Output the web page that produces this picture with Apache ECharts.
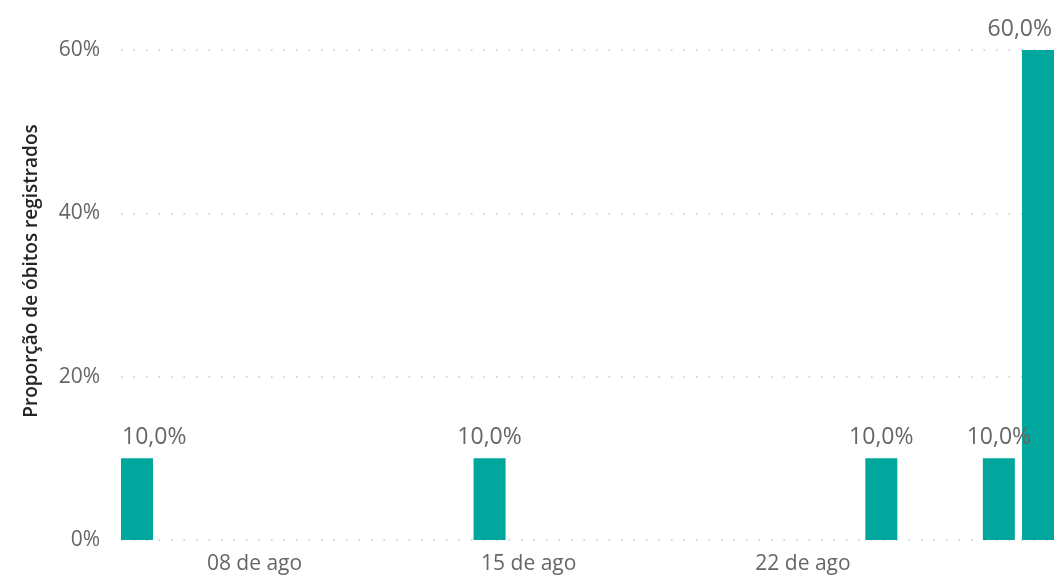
<!DOCTYPE html>
<html>
<head>
<meta charset="utf-8">
<script src="https://cdn.jsdelivr.net/npm/echarts@6/dist/echarts.min.js"></script>
<style>
  html, body { margin: 0; padding: 0; background: #fff; }
  #chart { width: 1057px; height: 576px; }
</style>
</head>
<body>
<div id="chart"></div>
<script>
    // dias de agosto com registros e a proporção (%) de óbitos
    var dias = [5, 14, 24, 27, 28];
    var proporcoes = [10, 10, 10, 10, 60];
    var diasRotulo = [8, 15, 22];
    var mes = 'ago';
    var yTicks = [0, 20, 40, 60];

    var myChart = echarts.init(document.getElementById('chart'));
    var font = '"Open Sans", "Noto Sans", sans-serif';
    var plotLeft = 121, plotRight = 1054;

    var option = {
        animation: false,
        grid: { left: plotLeft, right: 1057 - plotRight, top: 50, bottom: 36 },
        xAxis: {
            type: 'value',
            min: 4.592,
            max: 28.408,
            axisLine: { show: false },
            axisTick: { show: false },
            splitLine: { show: false },
            axisLabel: {
                customValues: diasRotulo,
                color: '#666',
                fontSize: 21,
                fontFamily: font,
                margin: 14,
                formatter: function (v) {
                    return (v < 10 ? '0' + v : v) + ' de ' + mes;
                }
            }
        },
        yAxis: {
            type: 'value',
            min: yTicks[0],
            max: yTicks[yTicks.length - 1],
            interval: 20,
            name: 'Proporção de óbitos registrados',
            nameLocation: 'middle',
            nameGap: 80,
            nameTextStyle: {
                color: '#252423', fontSize: 19, fontWeight: 600, fontFamily: font,
                padding: [0, 0, 0, 48]
            },
            axisLine: { show: false },
            axisTick: { show: false },
            axisLabel: {
                color: '#666',
                fontSize: 21,
                fontFamily: font,
                margin: 21,
                formatter: '{value}%'
            },
            splitLine: {
                lineStyle: { color: '#c8c8c8', width: 1.5, type: [1.5, 11] }
            }
        },
        series: [{
            type: 'bar',
            barWidth: 32,
            itemStyle: { color: '#01A79C' },
            label: {
                show: true,
                position: 'top',
                distance: 9,
                color: '#666',
                fontSize: 23,
                fontFamily: font,
                formatter: function (p) {
                    return p.value[1].toFixed(1).replace('.', ',') + '%';
                }
            },
            // mantém os rótulos dentro da área do gráfico
            labelLayout: function (p) {
                var r = p.labelRect;
                if (r.x < plotLeft) return { dx: plotLeft + 1 - r.x };
                if (r.x + r.width > plotRight) return { dx: plotRight - 2 - (r.x + r.width) };
                return {};
            },
            data: dias.map(function (d, i) { return [d, proporcoes[i]]; })
        }]
    };
    myChart.setOption(option);
</script>
</body>
</html>
